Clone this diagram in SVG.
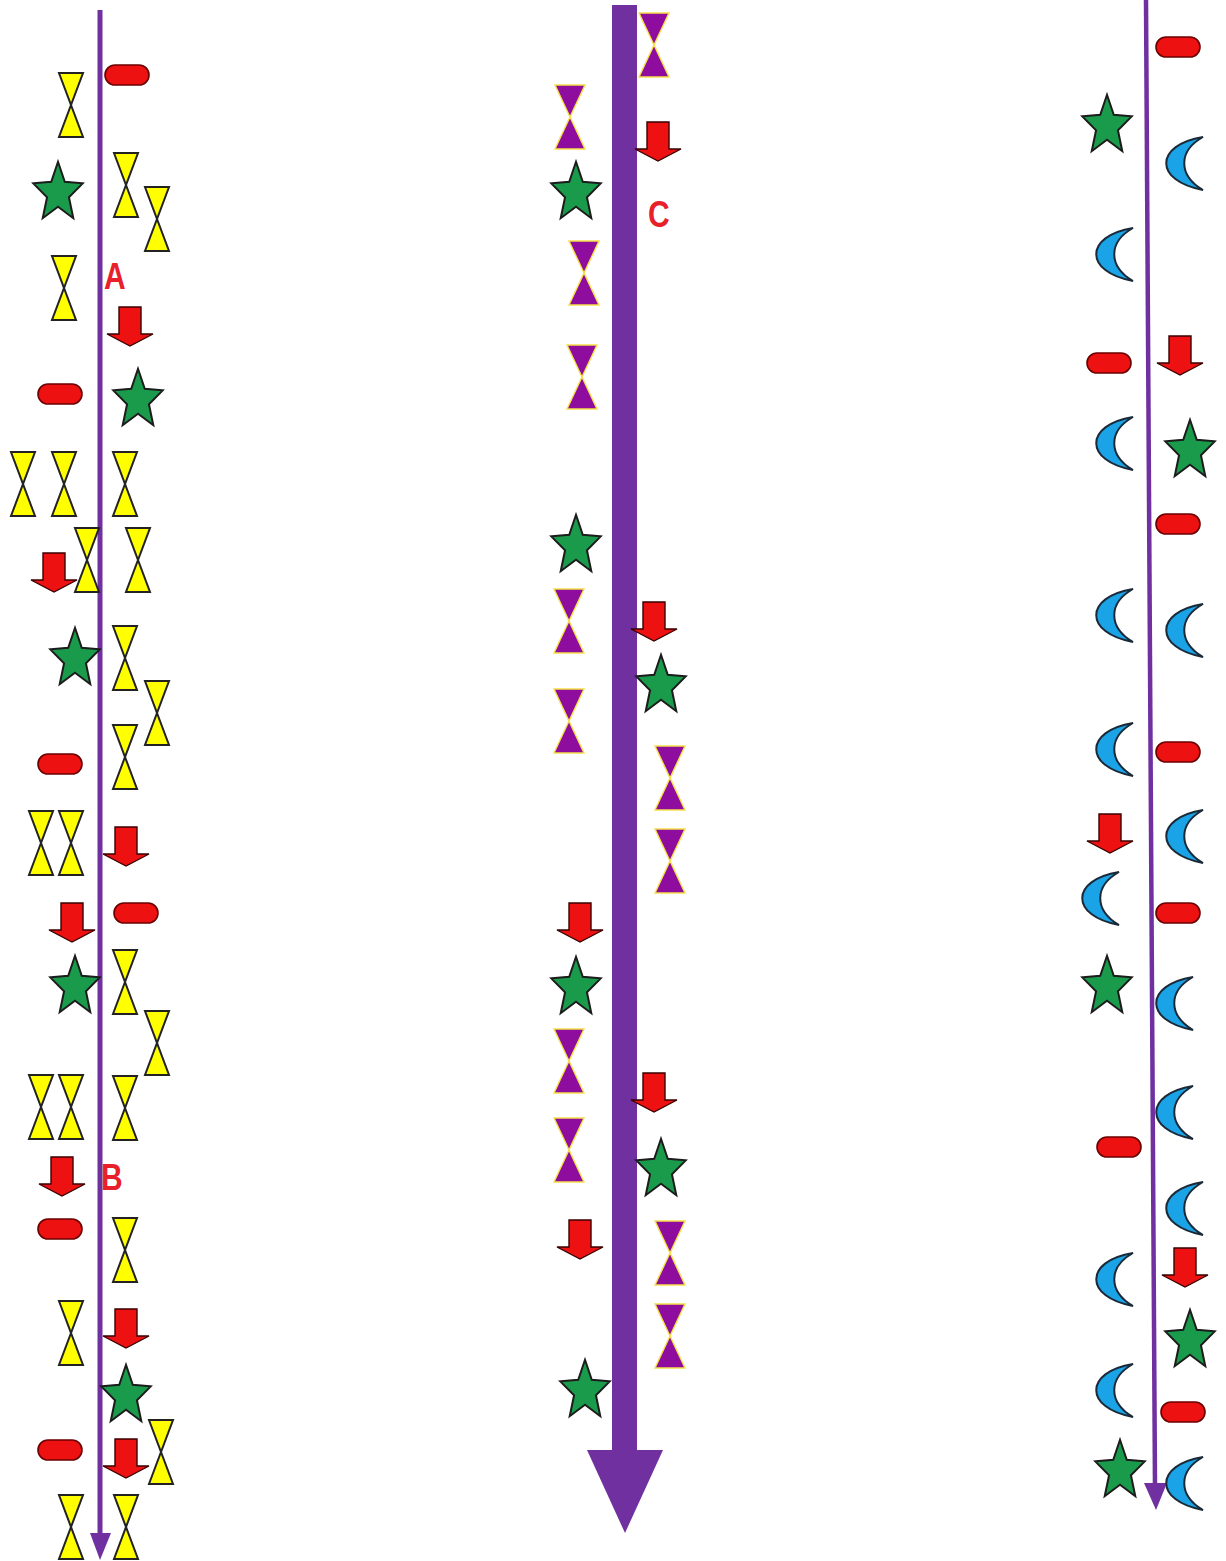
<svg xmlns="http://www.w3.org/2000/svg" width="1226" height="1561" viewBox="0 0 1226 1561">
<style>
.hy{fill:#ffff00;stroke:#222;stroke-width:2;stroke-linejoin:miter}
.hp{fill:#8e0c9e;stroke:#f5e04a;stroke-width:1.4}
.st{fill:#1a9b4b;stroke:#1c1c1c;stroke-width:2;stroke-linejoin:miter}
.pl{fill:#ee1111;stroke:#6a0000;stroke-width:1.6}
.ar{fill:#ee1111;stroke:#3a0000;stroke-width:1.4;stroke-linejoin:miter}
.mn{fill:#1aa3e6;stroke:#1b2a38;stroke-width:2;stroke-linejoin:miter}
.ln{fill:#7030a0;stroke:none}
.lbl{font-family:"Liberation Sans",Arial,sans-serif;font-weight:bold;font-size:30px;fill:#e8202a}
</style>
<defs>
<path id="hgY" class="hy" d="M-12,-32 H12 L-12,32 H12 Z"/>
<path id="hgP" class="hp" d="M-15,-32 H15 L-15,32 H15 Z"/>
<path id="star" class="st" d="M0,-31.2 L6.76,-11.16 L24.73,-9.64 L10.94,4.26 L15.28,25.24 L0,13.8 L-15.28,25.24 L-10.94,4.26 L-24.73,-9.64 L-6.76,-11.16 Z"/>
<rect id="pill" class="pl" x="-22" y="-10" width="44" height="20" rx="10"/>
<path id="arr" class="ar" d="M-11,0 H11 V27 H23 L0,39 L-23,27 H-11 Z"/>
<path id="moon" class="mn" d="M17,-26 C-32,-18 -32,18 17,27 C-8,12 -8,-12 17,-26 Z"/>
</defs>

<g id="connectors">
<rect class="ln" x="97.5" y="10" width="5" height="1528"/>
<polygon class="ln" points="90,1533 111,1533 100,1560"/>
<rect class="ln" x="612" y="5" width="25" height="1447"/>
<polygon class="ln" points="587,1450 663,1450 625,1533"/>
<line x1="1146" y1="0" x2="1155" y2="1488" stroke="#7030a0" stroke-width="4.5"/>
<polygon class="ln" points="1144,1483 1167,1483 1156,1510"/>
</g>

<g id="labels">
<text class="lbl" transform="translate(104,289) scale(1,1.2)">A</text>
<text class="lbl" transform="translate(101,1190) scale(1,1.2)">B</text>
<text class="lbl" transform="translate(648,227) scale(1,1.2)">C</text>
</g>

<g id="left">
<g id="L-h1"><use href="#hgY" x="71" y="105"/></g>
<g id="L-h2"><use href="#hgY" x="126" y="185"/></g>
<g id="L-h3"><use href="#hgY" x="157" y="219"/></g>
<g id="L-h4"><use href="#hgY" x="64" y="288"/></g>
<g id="L-h5"><use href="#hgY" x="23" y="484"/></g>
<g id="L-h6"><use href="#hgY" x="64" y="484"/></g>
<g id="L-h7"><use href="#hgY" x="125" y="484"/></g>
<g id="L-h8"><use href="#hgY" x="87" y="560"/></g>
<g id="L-h9"><use href="#hgY" x="138" y="560"/></g>
<g id="L-h10"><use href="#hgY" x="125" y="658"/></g>
<g id="L-h11"><use href="#hgY" x="157" y="713"/></g>
<g id="L-h12"><use href="#hgY" x="125" y="757"/></g>
<g id="L-h13"><use href="#hgY" x="41" y="843"/></g>
<g id="L-h14"><use href="#hgY" x="71" y="843"/></g>
<g id="L-h15"><use href="#hgY" x="125" y="982"/></g>
<g id="L-h16"><use href="#hgY" x="157" y="1043"/></g>
<g id="L-h17"><use href="#hgY" x="41" y="1107"/></g>
<g id="L-h18"><use href="#hgY" x="71" y="1107"/></g>
<g id="L-h19"><use href="#hgY" x="125" y="1108"/></g>
<g id="L-h20"><use href="#hgY" x="125" y="1250"/></g>
<g id="L-h21"><use href="#hgY" x="71" y="1333"/></g>
<g id="L-h22"><use href="#hgY" x="161" y="1452"/></g>
<g id="L-h23"><use href="#hgY" x="71" y="1527"/></g>
<g id="L-h24"><use href="#hgY" x="126" y="1527"/></g>
<g id="L-s1"><use href="#star" x="58" y="193"/></g>
<g id="L-s2"><use href="#star" x="138" y="400"/></g>
<g id="L-s3"><use href="#star" x="75" y="659"/></g>
<g id="L-s4"><use href="#star" x="75" y="987"/></g>
<g id="L-s5"><use href="#star" x="126" y="1396"/></g>
<g id="L-p1"><use href="#pill" x="127" y="75"/></g>
<g id="L-p2"><use href="#pill" x="60" y="394"/></g>
<g id="L-p3"><use href="#pill" x="60" y="764"/></g>
<g id="L-p4"><use href="#pill" x="136" y="913"/></g>
<g id="L-p5"><use href="#pill" x="60" y="1229"/></g>
<g id="L-p6"><use href="#pill" x="60" y="1450"/></g>
<g id="L-a1"><use href="#arr" x="130" y="307"/></g>
<g id="L-a2"><use href="#arr" x="54" y="553"/></g>
<g id="L-a3"><use href="#arr" x="126" y="827"/></g>
<g id="L-a4"><use href="#arr" x="72" y="903"/></g>
<g id="L-a5"><use href="#arr" x="62" y="1157"/></g>
<g id="L-a6"><use href="#arr" x="126" y="1309"/></g>
<g id="L-a7"><use href="#arr" x="126" y="1439"/></g>
</g>

<g id="middle">
<g id="M-h1"><use href="#hgP" x="654" y="45"/></g>
<g id="M-h2"><use href="#hgP" x="570" y="117"/></g>
<g id="M-h3"><use href="#hgP" x="584" y="273"/></g>
<g id="M-h4"><use href="#hgP" x="582" y="377"/></g>
<g id="M-h5"><use href="#hgP" x="569" y="621"/></g>
<g id="M-h6"><use href="#hgP" x="569" y="721"/></g>
<g id="M-h7"><use href="#hgP" x="670" y="778"/></g>
<g id="M-h8"><use href="#hgP" x="670" y="861"/></g>
<g id="M-h9"><use href="#hgP" x="569" y="1061"/></g>
<g id="M-h10"><use href="#hgP" x="569" y="1150"/></g>
<g id="M-h11"><use href="#hgP" x="670" y="1253"/></g>
<g id="M-h12"><use href="#hgP" x="670" y="1336"/></g>
<g id="M-s1"><use href="#star" x="576" y="193"/></g>
<g id="M-s2"><use href="#star" x="576" y="546"/></g>
<g id="M-s3"><use href="#star" x="661" y="686"/></g>
<g id="M-s4"><use href="#star" x="576" y="988"/></g>
<g id="M-s5"><use href="#star" x="661" y="1170"/></g>
<g id="M-s6"><use href="#star" x="585" y="1391"/></g>
<g id="M-a1"><use href="#arr" x="658" y="122"/></g>
<g id="M-a2"><use href="#arr" x="654" y="602"/></g>
<g id="M-a3"><use href="#arr" x="580" y="903"/></g>
<g id="M-a4"><use href="#arr" x="654" y="1073"/></g>
<g id="M-a5"><use href="#arr" x="580" y="1220"/></g>
</g>

<g id="right">
<g id="R-m1"><use href="#moon" x="1186" y="163"/></g>
<g id="R-m2"><use href="#moon" x="1116" y="254"/></g>
<g id="R-m3"><use href="#moon" x="1116" y="443"/></g>
<g id="R-m4"><use href="#moon" x="1116" y="615"/></g>
<g id="R-m5"><use href="#moon" x="1186" y="630"/></g>
<g id="R-m6"><use href="#moon" x="1116" y="749"/></g>
<g id="R-m7"><use href="#moon" x="1186" y="836"/></g>
<g id="R-m8"><use href="#moon" x="1102" y="898"/></g>
<g id="R-m9"><use href="#moon" x="1176" y="1003"/></g>
<g id="R-m10"><use href="#moon" x="1176" y="1112"/></g>
<g id="R-m11"><use href="#moon" x="1186" y="1208"/></g>
<g id="R-m12"><use href="#moon" x="1116" y="1279"/></g>
<g id="R-m13"><use href="#moon" x="1116" y="1390"/></g>
<g id="R-m14"><use href="#moon" x="1186" y="1483"/></g>
<g id="R-s1"><use href="#star" x="1107" y="126"/></g>
<g id="R-s2"><use href="#star" x="1190" y="451"/></g>
<g id="R-s3"><use href="#star" x="1107" y="987"/></g>
<g id="R-s4"><use href="#star" x="1190" y="1341"/></g>
<g id="R-s5"><use href="#star" x="1120" y="1471"/></g>
<g id="R-p1"><use href="#pill" x="1178" y="47"/></g>
<g id="R-p2"><use href="#pill" x="1109" y="363"/></g>
<g id="R-p3"><use href="#pill" x="1178" y="524"/></g>
<g id="R-p4"><use href="#pill" x="1178" y="752"/></g>
<g id="R-p5"><use href="#pill" x="1178" y="913"/></g>
<g id="R-p6"><use href="#pill" x="1119" y="1147"/></g>
<g id="R-p7"><use href="#pill" x="1183" y="1412"/></g>
<g id="R-a1"><use href="#arr" x="1180" y="336"/></g>
<g id="R-a2"><use href="#arr" x="1110" y="814"/></g>
<g id="R-a3"><use href="#arr" x="1185" y="1248"/></g>
</g>
</svg>
